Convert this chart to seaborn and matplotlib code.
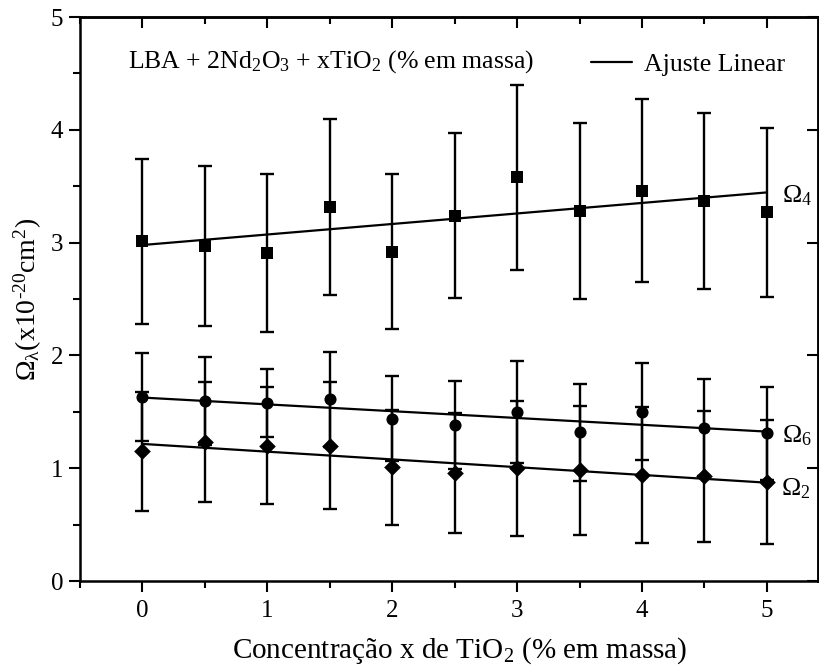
import matplotlib
matplotlib.use('Agg')
import matplotlib.pyplot as plt
from matplotlib.lines import Line2D
from matplotlib.ticker import MultipleLocator
import numpy as np
import pandas as pd
import seaborn as sns

# data
conc = [0, 0.5, 1, 1.5, 2, 2.5, 3, 3.5, 4, 4.5, 5]
omega2 = [1.15, 1.23, 1.20, 1.20, 1.01, 0.96, 1.00, 0.98, 0.94, 0.93, 0.88]
omega4 = [3.01, 2.97, 2.91, 3.32, 2.92, 3.24, 3.58, 3.28, 3.46, 3.37, 3.27]
omega6 = [1.63, 1.60, 1.58, 1.61, 1.44, 1.38, 1.50, 1.32, 1.50, 1.36, 1.31]
err2 = [0.53, 0.53, 0.52, 0.56, 0.51, 0.53, 0.60, 0.57, 0.60, 0.58, 0.55]
err4 = [0.73, 0.71, 0.70, 0.78, 0.69, 0.73, 0.82, 0.78, 0.81, 0.78, 0.75]
err6 = [0.39, 0.39, 0.30, 0.42, 0.38, 0.39, 0.45, 0.43, 0.43, 0.43, 0.41]
series_names = ['Ω$_2$', 'Ω$_4$', 'Ω$_6$']

sns.set_style('ticks')
plt.rcParams['font.family'] = ['Liberation Serif', 'DejaVu Serif']
plt.rcParams['mathtext.fontset'] = 'custom'
plt.rcParams['mathtext.rm'] = 'Liberation Serif'
plt.rcParams['mathtext.it'] = 'Liberation Serif:italic'
plt.rcParams['mathtext.default'] = 'regular'
plt.rcParams['axes.linewidth'] = 1.8
for key in ['text.color', 'axes.labelcolor', 'axes.edgecolor', 'xtick.color', 'ytick.color']:
    plt.rcParams[key] = 'black'

fig = plt.figure(figsize=(8.2, 6.67), dpi=100)
ax = fig.add_axes([0.0976, 0.1289, 0.9, 0.8456])

series = [(omega2, err2, 'D', 72), (omega4, err4, 's', 64), (omega6, err6, 'o', 76)]
for vals, errs, mk, sz in series:
    ax.errorbar(conc, vals, yerr=errs, fmt='none', ecolor='black',
                elinewidth=1.7, capsize=5, capthick=1.7, zorder=2)
    df = pd.DataFrame({'x': conc, 'y': vals})
    sns.regplot(data=df, x='x', y='y', ax=ax, ci=None, scatter=False,
                line_kws={'color': 'black', 'lw': 1.6, 'zorder': 3})
    sns.scatterplot(data=df, x='x', y='y', ax=ax, marker=mk, s=sz,
                    color='black', edgecolor='black', linewidth=0, zorder=4)

ax.set_xlim(-0.5, 5.41)
ax.set_ylim(0, 5)
ax.xaxis.set_major_locator(MultipleLocator(1))
ax.xaxis.set_minor_locator(MultipleLocator(0.5))
ax.yaxis.set_major_locator(MultipleLocator(1))
ax.yaxis.set_minor_locator(MultipleLocator(0.5))
ax.tick_params(which='major', direction='out', length=8, width=1.5,
               labelsize=18, pad=6)
ax.tick_params(which='minor', direction='out', length=5, width=1.5)
ax.tick_params(axis='y', pad=4)

top = ax.secondary_xaxis('top')
top.xaxis.set_major_locator(MultipleLocator(1))
top.xaxis.set_minor_locator(MultipleLocator(0.5))
top.tick_params(which='major', direction='in', length=8, width=1.5, labeltop=False)
top.tick_params(which='minor', direction='in', length=5, width=1.5)
right = ax.secondary_yaxis('right')
right.yaxis.set_major_locator(MultipleLocator(1))
right.tick_params(which='major', direction='in', length=8, width=1.5, labelright=False)
for sec in (top, right):
    for sp in sec.spines.values():
        sp.set_linewidth(1.8)
for sp in ax.spines.values():
    sp.set_visible(True)
    sp.set_linewidth(1.8)

ax.set_xlabel('Concentração x de TiO$_2$ (% em massa)', fontsize=21, labelpad=9)
ax.xaxis.label.set_x(0.514)
ax.set_ylabel(r'Ω$_λ$(x10$^{\text{-}20}$cm$^2$)', fontsize=20, labelpad=5)

ax.text(0.065, 0.921, 'LBA + 2Nd$_2$O$_3$ + xTiO$_2$ (% em massa)',
        transform=ax.transAxes, fontsize=18.5, va='center', ha='left')
ax.legend(handles=[Line2D([], [], color='black', lw=1.6)], labels=['Ajuste Linear'],
          loc='upper right', bbox_to_anchor=(0.955, 0.937), frameon=False,
          fontsize=18.5, handlelength=1.6, handletextpad=0.45,
          borderpad=0, borderaxespad=0)

# series labels at the right end of each fit line
ax.text(5.12, 3.42, series_names[1], fontsize=18.5, va='center', ha='left')
ax.text(5.12, 1.29, series_names[2], fontsize=18.5, va='center', ha='left')
ax.text(5.11, 0.82, series_names[0], fontsize=18.5, va='center', ha='left')

fig.savefig('out.png', dpi=100)
